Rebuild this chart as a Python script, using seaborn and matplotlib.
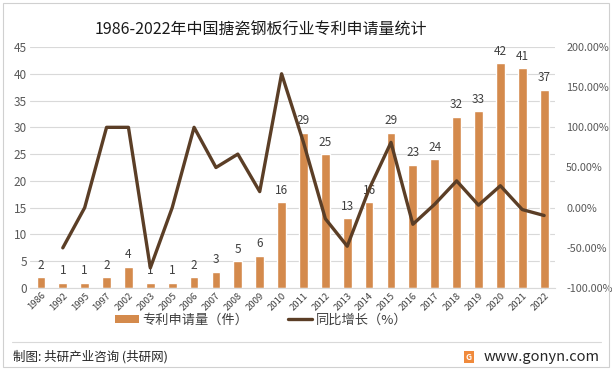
import numpy as np
import pandas as pd
import matplotlib
matplotlib.use("Agg")
import matplotlib.pyplot as plt
from matplotlib.patches import Rectangle, Patch
from matplotlib.lines import Line2D
import seaborn as sns

# data
years = ['1986', '1992', '1995', '1997', '2002', '2003', '2005', '2006', '2007',
         '2008', '2009', '2010', '2011', '2012', '2013', '2014', '2015', '2016',
         '2017', '2018', '2019', '2020', '2021', '2022']
patents = [2, 1, 1, 2, 4, 1, 1, 2, 3, 5, 6, 16, 29, 25, 13, 16, 29, 23, 24,
           32, 33, 42, 41, 37]
growth = [np.nan, -50.0, 0.0, 100.0, 100.0, -75.0, 0.0, 100.0, 50.0, 66.67,
          20.0, 166.67, 81.25, -13.79, -48.0, 23.08, 81.25, -20.69, 4.35,
          33.33, 3.13, 27.27, -2.38, -9.76]

TITLE = '1986-2022年中国搪瓷钢板行业专利申请量统计'
BAR_LABEL = '专利申请量（件）'
LINE_LABEL = '同比增长（%）'
SOURCE = '制图: 共研产业咨询 (共研网)'
SITE = 'www.gonyn.com'

BAR_COLOR = '#D48A4C'
LINE_COLOR = '#5B3E26'
TEXT_COLOR = '#404040'
TICK_COLOR = '#595959'

sns.set_style("white")
plt.rcParams['font.family'] = ['Noto Sans CJK SC', 'DejaVu Sans']
plt.rcParams['axes.unicode_minus'] = False

df = pd.DataFrame({'year': years, 'patents': patents, 'growth': growth})

fig = plt.figure(figsize=(6.12, 3.70), dpi=100)
ax = fig.add_axes([0.049, 0.2216, 0.858, 0.6514])

sns.barplot(data=df, x='year', y='patents', color=BAR_COLOR, width=0.4,
            saturation=1, ax=ax, zorder=2)
ax.set_ylim(0, 45)
ax.set_yticks(np.arange(0, 46, 5))
ax.yaxis.grid(True, color='#D9D9D9', linewidth=0.8, zorder=0)
ax.set_axisbelow(True)
ax.set_xlabel('')
ax.set_ylabel('')
ax.set_xlim(-0.5, len(years) - 0.5)
for s in ax.spines.values():
    s.set_visible(False)
ax.spines['bottom'].set_visible(True)
ax.spines['bottom'].set_color('#D9D9D9')
ax.tick_params(axis='y', length=0, labelsize=8.5, labelcolor=TICK_COLOR, pad=2)
ax.tick_params(axis='x', length=0, labelsize=6.8, labelcolor=TEXT_COLOR, pad=2)
plt.setp(ax.get_xticklabels(), rotation=45, ha='right', rotation_mode='anchor')

for i, v in enumerate(patents):
    ax.annotate(str(v), (i, v), xytext=(0, 4), textcoords='offset points',
                ha='center', va='bottom', fontsize=8.5, color=TEXT_COLOR)

ax2 = ax.twinx()
sns.lineplot(x=np.arange(len(years)), y=df['growth'], color=LINE_COLOR,
             linewidth=2.4, ax=ax2, sort=False)
ax2.set_ylim(-100, 200)
ax2.set_yticks(np.arange(-100, 201, 50))
ax2.set_yticklabels([f'{t:.2f}%' for t in np.arange(-100, 201, 50)])
ax2.set_ylabel('')
for s in ax2.spines.values():
    s.set_visible(False)
ax2.tick_params(axis='y', length=0, labelsize=7.8, labelcolor=TICK_COLOR, pad=8)

# legend
handles = [Patch(facecolor=BAR_COLOR, edgecolor='none'),
           Line2D([0], [0], color=LINE_COLOR, linewidth=2.4)]
fig.legend(handles, [BAR_LABEL, LINE_LABEL], loc='center',
           bbox_to_anchor=(0.427, 0.135), ncol=2, frameon=False,
           fontsize=9.5, handlelength=1.8, handleheight=0.6, handletextpad=0.3,
           columnspacing=3.0, labelcolor=TEXT_COLOR)

# title
fig.text(0.427, 0.918, TITLE, ha='center', va='center', fontsize=11.5,
         color='#1a1a1a')

# footer
fig.add_artist(Line2D([0.02, 0.982], [0.075, 0.075], color='#D9D9D9',
                      linewidth=0.8, transform=fig.transFigure))
fig.text(0.022, 0.035, SOURCE, ha='left', va='center', fontsize=9,
         color='#262626')
fig.text(0.98, 0.035, SITE, ha='right', va='center', fontsize=10.5,
         color='#262626')
fig.add_artist(Rectangle((0.758, 0.018), 0.016, 0.034, facecolor='#F08A3C',
                         edgecolor='none', transform=fig.transFigure))
fig.text(0.766, 0.035, 'G', ha='center', va='center', fontsize=6,
         color='white', fontweight='bold')

# outer frame
fig.add_artist(Rectangle((0.005, 0.008), 0.99, 0.984, fill=False,
                         edgecolor='#D0D0D0', linewidth=0.8,
                         transform=fig.transFigure))

fig.savefig('out.png', dpi=100)
